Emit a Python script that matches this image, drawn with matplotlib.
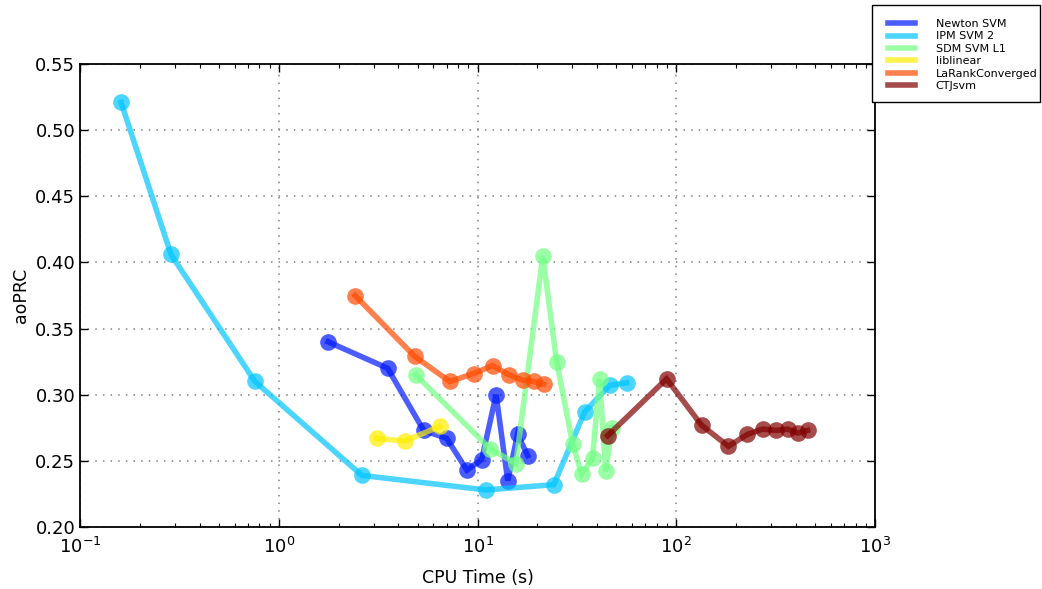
import numpy as np
import matplotlib
matplotlib.use("Agg")
import matplotlib.pyplot as plt
from matplotlib.patches import Rectangle

# CPU time (s) and aoPRC for each solver
newton_t = [1.77, 3.53, 5.36, 7.0, 8.84, 10.5, 12.4, 14.2, 15.9, 17.9]
newton_p = [0.340, 0.320, 0.273, 0.267, 0.243, 0.251, 0.300, 0.235, 0.270, 0.254]

ipm_t = [0.161, 0.287, 0.759, 2.62, 11.0, 24.2, 34.6, 46.2, 56.3]
ipm_p = [0.521, 0.406, 0.310, 0.239, 0.228, 0.232, 0.287, 0.307, 0.309]

sdm_t = [4.89, 11.6, 15.6, 21.3, 25.0, 30.1, 33.4, 37.9, 41.1, 44.2, 47.3]
sdm_p = [0.315, 0.259, 0.248, 0.405, 0.325, 0.263, 0.240, 0.252, 0.312, 0.242, 0.275]

liblinear_t = [3.11, 4.31, 6.46]
liblinear_p = [0.267, 0.265, 0.276]

larank_t = [2.42, 4.83, 7.25, 9.57, 11.9, 14.4, 16.9, 19.2, 21.5]
larank_p = [0.375, 0.329, 0.310, 0.316, 0.322, 0.315, 0.311, 0.310, 0.308]

ctj_t = [45.2, 89.4, 134, 183, 228, 272, 319, 363, 408, 458]
ctj_p = [0.269, 0.312, 0.277, 0.261, 0.270, 0.274, 0.273, 0.274, 0.271, 0.273]

series = [
    ("Newton SVM", newton_t, newton_p),
    ("IPM SVM 2", ipm_t, ipm_p),
    ("SDM SVM L1", sdm_t, sdm_p),
    ("liblinear", liblinear_t, liblinear_p),
    ("LaRankConverged", larank_t, larank_p),
    ("CTJsvm", ctj_t, ctj_p),
]

colors = plt.cm.jet(np.linspace(0.15, 1.0, len(series)))

W, H = 1042, 589
fig = plt.figure(figsize=(W / 100, H / 100), dpi=100)
ax = fig.add_axes([80 / W, 1 - 527 / H, (875 - 80) / W, (527 - 64) / H])

for (name, t, p), c in zip(series, colors):
    ax.plot(t, p, "-o", color=c, alpha=0.7, lw=4, ms=12, mew=0,
            solid_joinstyle="miter", label=name)

ax.set_xscale("log")
ax.set_xlim(0.1, 1000)
ax.set_ylim(0.20, 0.55)
yt = np.arange(0.20, 0.551, 0.05)
ax.set_yticks(yt)
ax.set_yticklabels([f"{v:.2f}" for v in yt])
ax.grid(True, which="major", color="#808080", linestyle=(0, (1, 4)), linewidth=1.1)

ax.tick_params(which="both", direction="in", top=True, right=True, labelsize=13)
ax.tick_params(which="major", length=6, width=1)
ax.tick_params(which="minor", length=3, width=0.8)
ax.tick_params(axis="x", pad=7)
for s in ax.spines.values():
    s.set_linewidth(1.3)

ax.set_xlabel("CPU Time (s)", fontsize=12.5, labelpad=9)
ax.set_ylabel("aoPRC", fontsize=12.5)

# legend box outside the axes, top right
fig.patches.append(Rectangle((872 / W, 1 - 102 / H), (1040 - 872) / W, (102 - 5) / H,
                             transform=fig.transFigure, facecolor="white",
                             edgecolor="black", linewidth=1.0, zorder=0))
leg = fig.legend(loc="upper left", bbox_to_anchor=(888 / W, 1 - 19 / H),
                 fontsize=8, frameon=False, handlelength=2.4,
                 labelspacing=0.22, borderpad=0, handletextpad=1.9,
                 borderaxespad=0)
for h in leg.legend_handles:
    h.set_marker("")
    h.set_linewidth(4)

fig.savefig("out.png", dpi=100)
